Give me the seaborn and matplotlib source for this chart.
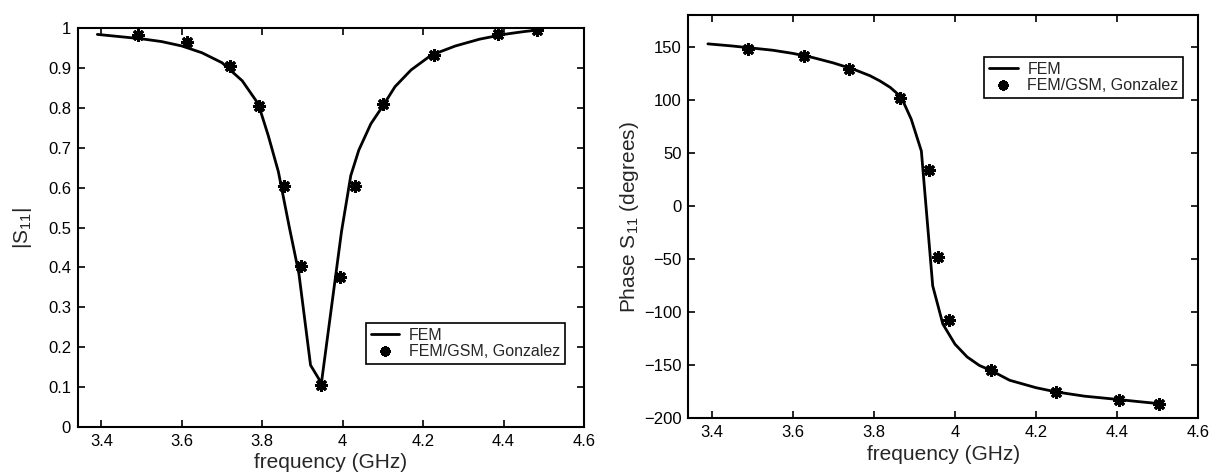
import numpy as np
import pandas as pd
import matplotlib
matplotlib.use("Agg")
import matplotlib.pyplot as plt
import seaborn as sns

# ---- data ----
fem_freq = [3.39, 3.45, 3.50, 3.55, 3.60, 3.65, 3.70, 3.75, 3.79, 3.815, 3.84, 3.867,
            3.891, 3.92, 3.947, 3.972, 3.997, 4.02, 4.04, 4.07, 4.10, 4.13, 4.17, 4.22,
            4.28, 4.34, 4.40, 4.45, 4.485]
fem_mag = [0.984, 0.978, 0.973, 0.966, 0.955, 0.938, 0.913, 0.868, 0.81, 0.73, 0.64, 0.502,
           0.385, 0.155, 0.11, 0.30, 0.49, 0.63, 0.694, 0.76, 0.805, 0.853, 0.895, 0.932,
           0.955, 0.972, 0.984, 0.991, 0.995]

gsm_freq_mag = [3.49, 3.614, 3.721, 3.793, 3.854, 3.896, 3.947, 3.994, 4.03, 4.099, 4.227, 4.385, 4.484]
gsm_mag = [0.982, 0.964, 0.905, 0.805, 0.605, 0.404, 0.105, 0.375, 0.605, 0.81, 0.932, 0.985, 0.995]

fem_freq_ph = [3.39, 3.45, 3.50, 3.55, 3.60, 3.65, 3.70, 3.75, 3.79, 3.815, 3.84, 3.867,
               3.892, 3.917, 3.945, 3.97, 4.00, 4.03, 4.06, 4.09, 4.135, 4.20, 4.25, 4.32,
               4.40, 4.45, 4.503]
fem_phase = [153, 151, 149, 147, 144, 140, 135, 129, 123, 118, 112, 103,
             82, 52, -75, -111, -130, -142, -150, -155, -164, -171, -175, -179,
             -182, -184, -186]

gsm_freq_ph = [3.488, 3.627, 3.738, 3.865, 3.937, 3.959, 3.985, 4.09, 4.25, 4.405, 4.503]
gsm_phase = [147.8, 141.5, 129.7, 102, 34, -47.7, -107, -154, -175.3, -182.5, -186.3]

xticks = [3.4, 3.6, 3.8, 4.0, 4.2, 4.4, 4.6]
xticklabels = ["3.4", "3.6", "3.8", "4", "4.2", "4.4", "4.6"]
mag_ticks = [0, 0.1, 0.2, 0.3, 0.4, 0.5, 0.6, 0.7, 0.8, 0.9, 1.0]
mag_ticklabels = ["0", "0.1", "0.2", "0.3", "0.4", "0.5", "0.6", "0.7", "0.8", "0.9", "1"]
ph_ticks = [-200, -150, -100, -50, 0, 50, 100, 150]
ph_ticklabels = ["\u2212200", "\u2212150", "\u2212100", "\u221250", "0", "50", "100", "150"]

sns.set_style("ticks")
plt.rcParams["font.family"] = ["Liberation Sans", "DejaVu Sans"]
plt.rcParams["mathtext.default"] = "regular"

fig = plt.figure(figsize=(12.12, 4.75), dpi=100)
ax1 = fig.add_axes([0.0644, 0.101, 0.4175, 0.840])
ax2 = fig.add_axes([0.568, 0.119, 0.4205, 0.849])

asterisk = (8, 2, 0)
mk = dict(color="black", linestyle="none", marker=asterisk, markersize=9,
          markeredgewidth=2.2, markeredgecolor="black", markerfacecolor="black",
          sort=False, estimator=None)

df_fem = pd.DataFrame({"f": fem_freq, "v": fem_mag})
df_gsm = pd.DataFrame({"f": gsm_freq_mag, "v": gsm_mag})
sns.lineplot(data=df_fem, x="f", y="v", ax=ax1, color="black", lw=2.0, sort=False,
             estimator=None, label="FEM")
sns.lineplot(data=df_gsm, x="f", y="v", ax=ax1, label="FEM/GSM, Gonzalez", **mk)

df_fem_p = pd.DataFrame({"f": fem_freq_ph, "v": fem_phase})
df_gsm_p = pd.DataFrame({"f": gsm_freq_ph, "v": gsm_phase})
sns.lineplot(data=df_fem_p, x="f", y="v", ax=ax2, color="black", lw=2.0, sort=False,
             estimator=None, label="FEM")
sns.lineplot(data=df_gsm_p, x="f", y="v", ax=ax2, label="FEM/GSM, Gonzalez", **mk)

for ax in (ax1, ax2):
    ax.set_xlim(3.342, 4.6)
    ax.set_xticks(xticks)
    ax.set_xticklabels(xticklabels)
    ax.tick_params(direction="in", top=True, right=True, length=5, width=1.2,
                   labelsize=12, pad=5, colors="black")
    for s in ax.spines.values():
        s.set_visible(True)
        s.set_linewidth(1.5)
        s.set_color("black")
    ax.set_xlabel("frequency (GHz)", fontsize=15, labelpad=3)

ax1.set_ylim(0, 1)
ax1.set_yticks(mag_ticks)
ax1.set_yticklabels(mag_ticklabels)
ax1.set_ylabel("|S$_{11}$|", fontsize=15, labelpad=10)

ax2.set_ylim(-200, 180)
ax2.set_yticks(ph_ticks)
ax2.set_yticklabels(ph_ticklabels)
ax2.set_ylabel("Phase S$_{11}$ (degrees)", fontsize=15, labelpad=2)

leg_kw = dict(frameon=True, fancybox=False, shadow=False, fontsize=11.5,
              handlelength=1.8, handletextpad=0.6, borderpad=0.3,
              labelspacing=0.1, borderaxespad=0, markerscale=0.8)
l1 = ax1.legend(loc="upper right", bbox_to_anchor=(0.962, 0.261), **leg_kw)
l2 = ax2.legend(loc="upper right", bbox_to_anchor=(0.971, 0.897), **leg_kw)
for lg in (l1, l2):
    lg.get_frame().set_edgecolor("black")
    lg.get_frame().set_linewidth(1.2)
    lg.get_frame().set_alpha(1)

fig.savefig("out.png", dpi=100, facecolor="white")
